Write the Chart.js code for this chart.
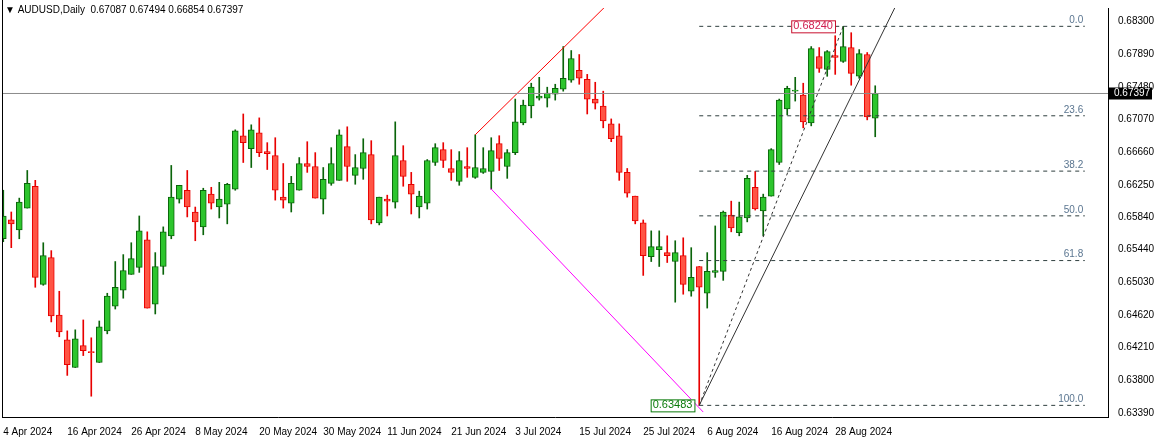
<!DOCTYPE html>
<html><head><meta charset="utf-8">
<script src="https://cdn.jsdelivr.net/npm/chart.js@4/dist/chart.umd.min.js"></script>
<style>html,body{margin:0;padding:0;background:#fff}#w{width:1154px;height:438px}</style>
</head><body><div id="w"><canvas id="c"></canvas></div>
<script>
const opens  = [.65574,.65810,.65686,.65959,.66233,.65002,.65338,.64617,.64306,.63958,.64232,.64157,.64021,.64418,.64729,.64928,.65127,.65214,.65562,.64754,.65226,.65611,.66071,.66183,.65910,.65723,.66134,.65972,.66009,.66196,.66867,.66705,.66904,.66668,.66618,.66096,.66022,.66183,.66518,.66481,.66071,.66270,.66307,.66730,.66370,.66456,.66630,.65773,.66071,.66034,.66556,.66258,.65972,.66022,.66531,.66692,.66456,.66295,.66481,.66345,.66407,.66419,.66767,.66481,.66655,.67029,.67240,.67339,.67339,.67389,.67451,.67563,.67687,.67575,.67327,.67240,.67016,.66867,.66407,.66109,.65773,.65350,.65437,.65400,.65288,.65363,.64915,.65226,.64890,.65152,.65164,.65872,.65649,.65835,.66220,.65922,.66109,.66531,.67202,.67426,.67376,.67029,.67861,.67700,.67874,.67799,.67973,.67613,.67886,.67087];
const highs  = [.66183,.65910,.66084,.66431,.66307,.65524,.65425,.64915,.64418,.64431,.64555,.64331,.64542,.64890,.65288,.65375,.65524,.65860,.65661,.65400,.65723,.66494,.66245,.66431,.65972,.66208,.66220,.66282,.66270,.66941,.67140,.67004,.67091,.66780,.66842,.66518,.66357,.66593,.66792,.66655,.66468,.66717,.66941,.66979,.66630,.66829,.66805,.66096,.66121,.67041,.66742,.66407,.66171,.66568,.66767,.66780,.66692,.66668,.66717,.66879,.66717,.66842,.66867,.66693,.67327,.67314,.67526,.67600,.67476,.67513,.67986,.67936,.67886,.67637,.67538,.67426,.67078,.67016,.66456,.66109,.65810,.65673,.65673,.65611,.65549,.65586,.65462,.65226,.65400,.65735,.65922,.66046,.66034,.66370,.66419,.66134,.66705,.67327,.67488,.67600,.67526,.67986,.67973,.67936,.68122,.68240,.68160,.67948,.67911,.67494];
const lows   = [.65537,.65462,.65574,.65959,.64965,.64990,.64530,.64344,.63859,.63958,.64108,.63598,.64021,.64381,.64692,.64828,.65127,.65152,.64704,.64630,.65127,.65574,.66022,.65848,.65549,.65624,.65947,.65835,.65761,.66183,.66531,.66468,.66605,.66443,.66059,.65959,.65910,.66183,.66407,.66084,.65885,.66245,.66307,.66295,.66258,.66320,.65761,.65748,.65860,.65959,.66233,.65885,.65835,.65947,.66494,.66468,.66307,.66245,.66345,.66332,.66394,.66196,.66431,.66332,.66630,.67004,.67091,.67314,.67227,.67314,.67426,.67538,.67513,.67140,.67202,.66966,.66792,.66307,.66096,.65761,.65114,.65288,.65226,.65276,.64778,.64878,.64853,.63483,.64704,.65090,.65052,.65661,.65611,.65786,.65934,.65611,.66109,.66506,.67128,.67302,.66966,.66991,.67662,.67613,.67637,.67787,.67501,.67588,.67066,.66854];
const closes = [.65860,.65761,.66034,.66270,.65089,.65363,.64605,.64406,.63995,.64319,.64170,.64145,.64468,.64853,.64965,.65176,.65325,.65673,.64704,.65226,.65661,.66096,.66245,.65972,.65786,.66183,.66022,.66071,.66258,.66929,.66780,.66941,.66655,.66643,.66183,.66059,.66270,.66518,.66481,.66084,.66320,.66518,.66879,.66481,.66468,.66655,.65810,.66096,.66046,.66618,.66357,.66134,.66109,.66556,.66717,.66556,.66407,.66556,.66456,.66468,.66456,.66680,.66581,.66655,.67041,.67252,.67476,.67364,.67401,.67463,.67588,.67836,.67588,.67327,.67277,.67053,.66829,.66407,.66146,.65798,.65363,.65475,.65475,.65363,.65400,.65002,.65089,.64965,.65164,.65176,.65910,.65711,.65848,.66332,.65947,.66096,.66693,.67314,.67463,.67439,.67041,.67961,.67712,.67923,.67849,.67986,.67650,.67898,.67103,.67397];
const dateLabels = ['4 Apr 2024','16 Apr 2024','26 Apr 2024','8 May 2024','20 May 2024','30 May 2024','11 Jun 2024','21 Jun 2024','3 Jul 2024','15 Jul 2024','25 Jul 2024','6 Aug 2024','16 Aug 2024','28 Aug 2024'];
const dateIndex  = [0,8,16,24,32,40,48,56,64,72,80,88,96,104];
const priceTicks = [0.68300,0.67890,0.67480,0.67070,0.66660,0.66250,0.65840,0.65440,0.65030,0.64620,0.64210,0.63800,0.63390];
const fibLevels = [0,23.6,38.2,50,61.8,100];
const fibHigh = 0.68240, fibLow = 0.63483;
const lastPrice = 0.67397;
const redLine = [{x:59.0,y:0.66879},{x:75.2,y:0.68483}];
const magentaLine = [{x:60.9,y:0.66208},{x:87.5,y:0.63399}];
const fibDiag = [{x:87,y:fibLow},{x:105,y:fibHigh}];
const trendLine = [{x:87,y:fibLow},{x:111.5,y:0.68483}];

const N = opens.length;
const up = i => closes[i] >= opens[i];
const wick=[], body=[];
for(let i=0;i<N;i++){wick.push({x:i,y:[lows[i],highs[i]]});body.push({x:i,y:[opens[i],closes[i]]});}
const GREEN='#2dc52d', GREENB='#0a640a', RED='#ff5444', REDB='#e80000';
const FONT='"Liberation Sans"';
const datasets=[
 {type:'bar',data:wick,grouped:false,barThickness:1,order:3,backgroundColor:wick.map((d,i)=>up(i)?GREENB:REDB),borderWidth:0},
 {type:'bar',data:body,grouped:false,barThickness:6,order:2,backgroundColor:body.map((d,i)=>up(i)?GREEN:RED),borderColor:body.map((d,i)=>up(i)?GREENB:REDB),borderWidth:1,borderSkipped:false},
 {type:'line',data:[{x:-1,y:lastPrice},{x:140,y:lastPrice}],borderColor:'#8c8c8c',borderWidth:1,pointRadius:0,order:1},
 {type:'line',data:redLine,borderColor:'#ff0000',borderWidth:1,pointRadius:0,order:1},
 {type:'line',data:magentaLine,borderColor:'#ff00ff',borderWidth:1,pointRadius:0,order:1},
 {type:'line',data:fibDiag,borderColor:'#333',borderWidth:1,borderDash:[3,3],pointRadius:0,order:1},
 {type:'line',data:trendLine,borderColor:'#333',borderWidth:1,pointRadius:0,order:1},
];
fibLevels.forEach(l=>{const v=fibHigh-(fibHigh-fibLow)*l/100;datasets.push({type:'line',data:[{x:87,y:v},{x:135.2,y:v}],borderColor:'#2f3f3f',borderWidth:1,borderDash:[4,4],pointRadius:0,order:1});});

const overlay={id:'ov',afterDraw(ch){
 const c=ch.ctx,xs=ch.scales.x,ys=ch.scales.y;c.save();
 c.font='10px '+FONT;c.textBaseline='bottom';c.textAlign='right';c.fillStyle='#5a7590';
 fibLevels.forEach(l=>{const v=fibHigh-(fibHigh-fibLow)*l/100;c.fillText(l.toFixed(1),xs.getPixelForValue(135.0),ys.getPixelForValue(v)-1);});
 function box(txt,xv,yv,border,col,align){c.font='11px '+FONT;const w=c.measureText(txt).width+4;let x=xs.getPixelForValue(xv);if(align==='right')x-=w;const y=ys.getPixelForValue(yv);
  c.fillStyle='#fff';c.fillRect(x,y-6,w,12);c.strokeStyle=border;c.lineWidth=1;c.strokeRect(x+.5,y-6+.5,w,12);c.fillStyle=col;c.textAlign='left';c.textBaseline='middle';c.fillText(txt,x+2,y);}
 box(fibHigh.toFixed(5),98.5,fibHigh,'#c8102e','#d02050','left');
 box(fibLow.toFixed(5),86.4,fibLow,'#0a7a0a','#0a7a0a','right');
 const py=ys.getPixelForValue(lastPrice);c.fillStyle='#000';c.fillRect(ch.chartArea.right+1,py-6,43,12);
 c.fillStyle='#fff';c.font='10px '+FONT;c.textAlign='left';c.textBaseline='middle';c.fillText(lastPrice.toFixed(5),ch.chartArea.right+6,py);
 c.strokeStyle='#000';c.beginPath();c.moveTo(2.5,0);c.lineTo(2.5,ch.chartArea.bottom);c.stroke();
 c.fillStyle='#000';c.font='10px '+FONT;c.textBaseline='middle';c.fillText('\u25BC AUDUSD,Daily  0.67087 0.67494 0.66854 0.67397',5,10);
 c.restore();}};

new Chart(document.getElementById('c'),{
 data:{datasets},
 options:{responsive:true,maintainAspectRatio:false,animation:false,
  layout:{padding:{top:4,left:2,right:0,bottom:0}},
  plugins:{legend:{display:false},tooltip:{enabled:false}},
  scales:{
   x:{type:'linear',offset:false,min:-0.16,max:138.1,grid:{display:false,drawTicks:true},border:{color:'#000'},
      afterBuildTicks(s){s.ticks=dateIndex.map(v=>({value:v}));},
      afterFit(s){s.height=21;},
      ticks:{autoSkip:false,maxRotation:0,align:'start',padding:1,color:'#000',font:{family:'Liberation Sans',size:10},callback:(v)=>dateLabels[dateIndex.indexOf(v)]}},
   y:{position:'right',min:0.63337,max:0.68470,grid:{display:false},border:{color:'#000'},
      afterBuildTicks(s){s.ticks=priceTicks.map(v=>({value:v}));},
      afterFit(s){s.width=46;},
      ticks:{padding:2,color:'#000',font:{family:'Liberation Sans',size:10},callback:v=>v.toFixed(5)}}
  }},
 plugins:[overlay]
});
</script></body></html>
